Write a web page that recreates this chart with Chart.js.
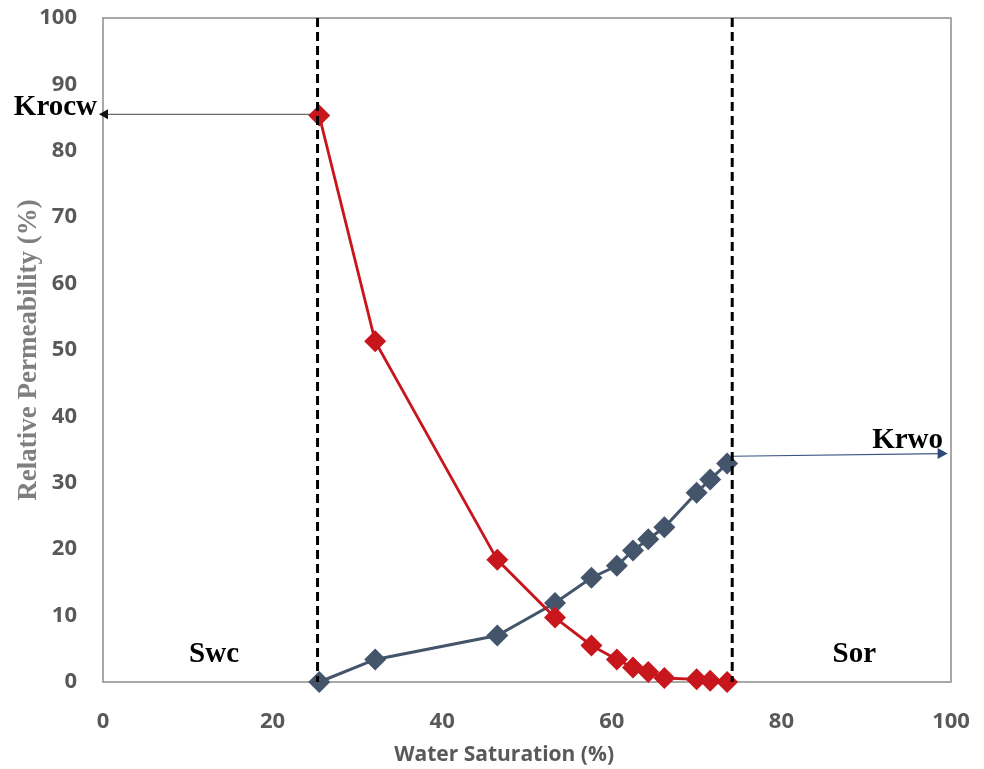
<!DOCTYPE html>
<html>
<head>
<meta charset="utf-8">
<script src="https://cdn.jsdelivr.net/npm/chart.js@4.4.1/dist/chart.umd.min.js"></script>
<style>
  html, body { margin: 0; padding: 0; background: #fff; }
  #wrap { width: 984px; height: 769px; }
</style>
</head>
<body>
<div id="wrap"><canvas id="chart" width="984" height="769"></canvas></div>
<script>
// Water saturation (%) at each measured point
const waterSat = [25.5, 32.1, 46.5, 53.3, 57.6, 60.6, 62.5, 64.3, 66.2, 70.0, 71.6, 73.6];
// Water relative permeability (%)
const krw = [0, 3.4, 7.0, 11.9, 15.7, 17.5, 19.8, 21.5, 23.3, 28.5, 30.5, 32.9];
// Oil relative permeability (%)
const kro = [85.3, 51.3, 18.4, 9.7, 5.5, 3.4, 2.2, 1.5, 0.6, 0.4, 0.2, 0];

const xTicks = [0, 20, 40, 60, 80, 100];
const yTicks = [0, 10, 20, 30, 40, 50, 60, 70, 80, 90, 100];

// end points
const swc = 25.3;
const sor = 74.2;
const krocw = 85.5;
const krwo = [34.0, 34.4];

const RED = '#c8161d';
const BLUE = '#44546a';
const GRAY = '#595959';

const toPoints = (xs, ys) => xs.map((x, i) => ({ x, y: ys[i] }));

function arrowHead(ctx, x, y, dir, size, color) {
  ctx.save();
  ctx.fillStyle = color;
  ctx.beginPath();
  ctx.moveTo(x, y);
  ctx.lineTo(x - dir * size, y - size * 0.55);
  ctx.lineTo(x - dir * size, y + size * 0.55);
  ctx.closePath();
  ctx.fill();
  ctx.restore();
}

const decorations = {
  id: 'decorations',
  beforeDatasetsDraw(chart) {
    const { ctx, chartArea: a, scales: { x, y } } = chart;
    ctx.save();
    // plot frame
    ctx.strokeStyle = '#8c8c8c';
    ctx.lineWidth = 1.5;
    ctx.strokeRect(a.left, a.top, a.right - a.left, a.bottom - a.top);

    // Krocw arrow
    ctx.strokeStyle = '#6b6b6b';
    ctx.lineWidth = 1.2;
    const ky = y.getPixelForValue(krocw);
    ctx.beginPath();
    ctx.moveTo(x.getPixelForValue(swc), ky);
    ctx.lineTo(x.getPixelForValue(0) - 2, ky);
    ctx.stroke();
    arrowHead(ctx, x.getPixelForValue(0) - 4, ky, -1, 9, '#111');

    // Krwo arrow
    ctx.strokeStyle = '#3a5384';
    const x1 = x.getPixelForValue(sor), x2 = x.getPixelForValue(99.6);
    ctx.beginPath();
    ctx.moveTo(x1, y.getPixelForValue(krwo[0]));
    ctx.lineTo(x2 - 6, y.getPixelForValue(krwo[1]));
    ctx.stroke();
    arrowHead(ctx, x2, y.getPixelForValue(krwo[1]), 1, 10, '#2f4a7a');
    ctx.restore();
  },
  afterDatasetsDraw(chart) {
    const { ctx, chartArea: a, scales: { x, y } } = chart;
    ctx.save();
    ctx.strokeStyle = '#000';
    ctx.lineWidth = 3;
    ctx.setLineDash([9, 5]);
    [swc, sor].forEach((v) => {
      const px = x.getPixelForValue(v);
      ctx.beginPath();
      ctx.moveTo(px, a.top);
      ctx.lineTo(px, a.bottom);
      ctx.stroke();
    });
    ctx.setLineDash([]);

    ctx.fillStyle = '#000';
    ctx.font = 'bold 29px "Liberation Serif", "DejaVu Serif", serif';
    ctx.textBaseline = 'alphabetic';
    ctx.textAlign = 'right';
    ctx.fillText('Krocw', x.getPixelForValue(-0.7), y.getPixelForValue(krocw) + 1);
    ctx.textAlign = 'left';
    ctx.fillText('Krwo', x.getPixelForValue(90.7), y.getPixelForValue(35.2));
    ctx.textAlign = 'center';
    ctx.fillText('Swc', x.getPixelForValue(13.1), y.getPixelForValue(3.0));
    ctx.fillText('Sor', x.getPixelForValue(88.6), y.getPixelForValue(3.0));

    // x axis title
    ctx.fillStyle = GRAY;
    ctx.font = 'bold 21px "Open Sans", sans-serif';
    ctx.textBaseline = 'middle';
    ctx.fillText('Water Saturation (%)', x.getPixelForValue(47.3), a.bottom + 73);
    ctx.restore();
  },
};

new Chart(document.getElementById('chart'), {
  type: 'scatter',
  data: {
    datasets: [
      {
        label: 'Kro',
        data: toPoints(waterSat, kro),
        showLine: true,
        borderColor: RED,
        borderWidth: 2.8,
        backgroundColor: RED,
        pointStyle: 'rectRot',
        pointRadius: 11,
        pointBorderWidth: 0,
        pointBackgroundColor: RED,
        clip: false,
      },
      {
        label: 'Krw',
        data: toPoints(waterSat, krw),
        showLine: true,
        borderColor: BLUE,
        borderWidth: 3,
        backgroundColor: BLUE,
        pointStyle: 'rectRot',
        pointRadius: 11,
        pointBorderWidth: 0,
        pointBackgroundColor: BLUE,
        clip: false,
      },
    ],
  },
  options: {
    responsive: false,
    animation: false,
    layout: { padding: { top: 18, right: 33, left: 0, bottom: 0 } },
    plugins: { legend: { display: false }, tooltip: { enabled: false } },
    scales: {
      x: {
        type: 'linear',
        min: 0,
        max: 100,
        afterBuildTicks: (s) => { s.ticks = xTicks.map((v) => ({ value: v })); },
        afterFit: (s) => {
          s.height = 87;
          s.paddingLeft = 0;
          s.paddingRight = 0;
        },
        grid: { display: false },
        border: { display: false },
        ticks: {
          padding: 19,
          color: GRAY,
          font: { family: '"Open Sans", sans-serif', size: 22, weight: 'bold' },
        },
      },
      y: {
        type: 'linear',
        min: 0,
        max: 100,
        afterBuildTicks: (s) => { s.ticks = yTicks.map((v) => ({ value: v })); },
        afterFit: (s) => {
          s.width = 103;
          s.paddingTop = 0;
          s.paddingBottom = 0;
        },
        grid: { display: false },
        border: { display: false },
        title: {
          display: true,
          text: 'Relative Permeability (%)',
          color: '#7f7f7f',
          font: { family: '"Liberation Serif", serif', size: 27, weight: 'bold' },
          padding: { top: 13, bottom: 0 },
        },
        ticks: {
          padding: 18,
          color: GRAY,
          font: { family: '"Open Sans", sans-serif', size: 22, weight: 'bold' },
        },
      },
    },
  },
  plugins: [decorations],
});
</script>
</body>
</html>
